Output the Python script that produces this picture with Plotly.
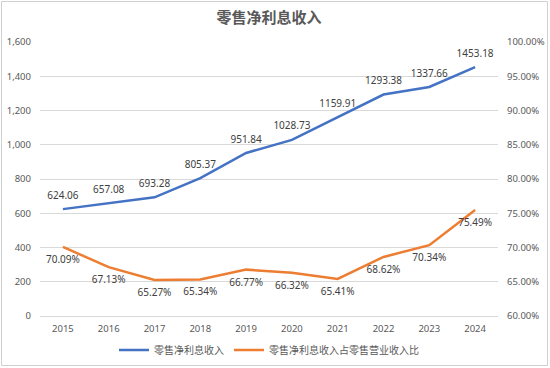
import plotly.graph_objects as go

years = ["2015", "2016", "2017", "2018", "2019", "2020", "2021", "2022", "2023", "2024"]
net_interest = [624.06, 657.08, 693.28, 805.37, 951.84, 1028.73, 1159.91, 1293.38, 1337.66, 1453.18]
ratio_pct = [70.09, 67.13, 65.27, 65.34, 66.77, 66.32, 65.41, 68.62, 70.34, 75.49]

name1 = "零售净利息收入"
name2 = "零售净利息收入占零售营业收入比"
title = "零售净利息收入"

FONT = "Noto Sans CJK SC, Noto Sans, sans-serif"
NUMFONT = "Noto Sans, sans-serif"
GRAY = "#595959"
LBL = "#404040"

ratio = [v / 100 for v in ratio_pct]

fig = go.Figure()
fig.add_trace(go.Scatter(
    x=years, y=net_interest, name=name1, mode="lines+markers+text",
    line=dict(color="#4472C4", width=2.5),
    marker=dict(size=11, color="rgba(0,0,0,0)", line=dict(width=0)),
    text=[f"{v:.2f}" for v in net_interest], textposition="top center",
    textfont=dict(size=10, color=LBL, family=NUMFONT),
    yaxis="y", cliponaxis=False,
))
fig.add_trace(go.Scatter(
    x=years, y=ratio, name=name2, mode="lines+markers+text",
    line=dict(color="#ED7D31", width=2.5),
    marker=dict(size=12, color="rgba(0,0,0,0)", line=dict(width=0)),
    text=[f"{v:.2f}%" for v in ratio_pct], textposition="bottom center",
    textfont=dict(size=10, color=LBL, family=NUMFONT),
    yaxis="y2", cliponaxis=False,
))

W, H = 550, 368
L, R, T, B = 40, 52, 42, 52
pw, ph = W - L - R, H - T - B

def px_x(p):
    return (p - L) / pw

def px_y(p):
    return (H - B - p) / ph

fig.update_layout(
    width=W, height=H,
    margin=dict(l=L, r=R, t=T, b=B, autoexpand=False),
    paper_bgcolor="white", plot_bgcolor="white",
    font=dict(family=FONT, size=10, color=GRAY),
    title=dict(text=f"<b>{title}</b>", x=0.5, xref="paper", xanchor="center",
               y=1 - 18 / H, yref="container", yanchor="middle",
               font=dict(size=15, color=GRAY, family=FONT)),
    xaxis=dict(type="category", range=[-0.5, 9.5], showgrid=False,
               showline=True, linecolor="#d9d9d9", linewidth=1,
               tickfont=dict(size=9.5, color=GRAY, family=NUMFONT), ticks="",
               ticklabelstandoff=4, automargin=False),
    yaxis=dict(range=[0, 1600], dtick=200, tickformat=",d",
               showgrid=True, gridcolor="#d9d9d9", gridwidth=1,
               zeroline=False, showline=False, ticks="",
               tickfont=dict(size=9.5, color=GRAY, family=NUMFONT),
               ticklabelstandoff=8, automargin=False),
    yaxis2=dict(range=[0.6, 1.0], dtick=0.05, tickformat=".2%",
                overlaying="y", side="right", showgrid=False,
                zeroline=False, showline=False, ticks="",
                tickfont=dict(size=9.5, color=GRAY, family=NUMFONT),
                ticklabelstandoff=8, automargin=False),
    legend=dict(orientation="h", x=0.5, xanchor="center",
                y=px_y(350), yanchor="middle",
                font=dict(size=10, color=GRAY, family=FONT),
                itemwidth=30, bgcolor="rgba(0,0,0,0)"),
    showlegend=True,
)

fig.add_shape(type="rect", xref="paper", yref="paper",
              x0=px_x(1.5), x1=px_x(547.5), y0=px_y(365.5), y1=px_y(1.5),
              line=dict(color="#d0d0d0", width=1), fillcolor="rgba(0,0,0,0)",
              layer="above")

fig.write_html("out.html",
               config={"displayModeBar": False},
               post_script="document.body.style.margin='0';document.body.style.overflow='hidden';")
